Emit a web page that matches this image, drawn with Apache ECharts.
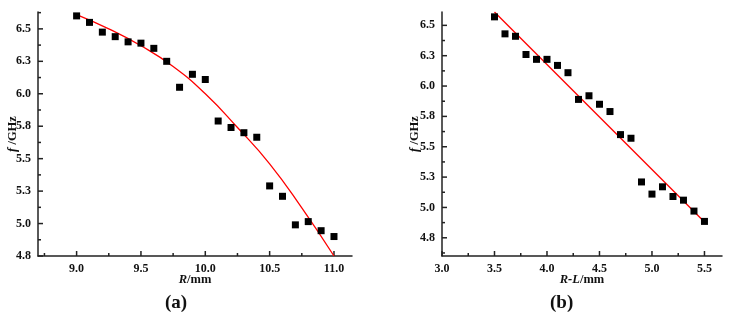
<!DOCTYPE html>
<html>
<head>
    <meta http-equiv="Content-Type" content="text/html; charset=utf-8"/>
    <script type="text/javascript" src="https://cdn.jsdelivr.net/npm/echarts@6/dist/echarts.min.js"></script>
    <style>
        body { margin: 0; background: #fff; }
        #main { width: 733px; height: 319px; }
    </style>
</head>
<body>
<div id="main"></div>
<script type="text/javascript">
    // (a) f vs R
    var rA = [9.0, 9.1, 9.2, 9.3, 9.4, 9.5, 9.6, 9.7, 9.8, 9.9, 10.0,
              10.1, 10.2, 10.3, 10.4, 10.5, 10.6, 10.7, 10.8, 10.9, 11.0];
    var fA = [6.60, 6.55, 6.475, 6.44, 6.40, 6.39, 6.35, 6.25, 6.05, 6.15, 6.11,
              5.79, 5.74, 5.70, 5.665, 5.29, 5.21, 4.99, 5.015, 4.945, 4.90];
    var fitRA = [9.0, 9.25, 9.5, 9.75, 10.0, 10.25, 10.5, 10.75, 11.0];
    var fitFA = [6.61, 6.50, 6.37, 6.21, 6.00, 5.74, 5.46, 5.12, 4.75];
    // (b) f vs R-L
    var rlB = [3.5, 3.6, 3.7, 3.8, 3.9, 4.0, 4.1, 4.2, 4.3, 4.4, 4.5,
               4.6, 4.7, 4.8, 4.9, 5.0, 5.1, 5.2, 5.3, 5.4, 5.5];
    var fB = [6.57, 6.43, 6.41, 6.26, 6.22, 6.22, 6.17, 6.11, 5.89, 5.92, 5.85,
              5.79, 5.60, 5.57, 5.21, 5.11, 5.17, 5.09, 5.06, 4.97, 4.885];
    var fitRLB = [3.5, 5.5];
    var fitFB = [6.61, 4.88];

    // tick labels (major) and minor tick positions
    var xTicksA = [9.0, 9.5, 10.0, 10.5, 11.0];
    var xMinorA = [8.75, 9.25, 9.75, 10.25, 10.75];
    var xTicksB = [3.0, 3.5, 4.0, 4.5, 5.0, 5.5];
    var xMinorB = [3.25, 3.75, 4.25, 4.75, 5.25];
    var yTicks = [4.75, 5.0, 5.25, 5.5, 5.75, 6.0, 6.25, 6.5];
    var yMinorA = [4.875, 5.125, 5.375, 5.625, 5.875, 6.125, 6.375, 6.625];
    var yMinorB = [4.625, 4.875, 5.125, 5.375, 5.625, 5.875, 6.125, 6.375];

    function pairs(xs, ys) {
        var out = [];
        for (var i = 0; i < xs.length; i++) out.push([xs[i], ys[i]]);
        return out;
    }

    var font = '"Liberation Serif", "Times New Roman", serif';
    var rangeA = {x: [8.7, 11.14], y: [4.75, 6.63]};
    var rangeB = {x: [3.0, 5.667], y: [4.60, 6.61]};

    function valueAxis(grid, range, labels, name, gap) {
        return {
            type: 'value', gridIndex: grid, min: range[0], max: range[1],
            name: name, nameLocation: 'middle', nameGap: gap, nameMoveOverlap: false,
            nameTextStyle: {
                fontFamily: font, fontWeight: 'bold', fontSize: 12.5, color: '#111',
                rich: {i: {fontFamily: font, fontWeight: 'bold', fontStyle: 'italic', fontSize: 12.5, color: '#111'}}
            },
            axisLine: {show: true, onZero: false, lineStyle: {color: '#222', width: 1.5}},
            axisTick: {show: false},
            axisLabel: {
                customValues: labels, margin: 7,
                fontFamily: font, fontWeight: 'bold', fontSize: 12, color: '#111',
                formatter: function (v) { return Number(v).toFixed(1); }
            },
            splitLine: {show: false}
        };
    }

    // inward tick marks: [x, y, direction(0 = x tick, 1 = y tick), length]
    function tickData(range, xMajor, xMinor, yMajor, yMinor) {
        var d = [];
        xMajor.forEach(function (v) { d.push([v, range.y[0], 0, 5]); });
        xMinor.forEach(function (v) { d.push([v, range.y[0], 0, 3]); });
        yMajor.forEach(function (v) { d.push([range.x[0], v, 1, 5]); });
        yMinor.forEach(function (v) { d.push([range.x[0], v, 1, 3]); });
        return d;
    }
    function renderTick(params, api) {
        var p = api.coord([api.value(0), api.value(1)]);
        var len = api.value(3);
        var shape = api.value(2) === 0
            ? {x1: p[0], y1: p[1], x2: p[0], y2: p[1] - len}
            : {x1: p[0], y1: p[1], x2: p[0] + len, y2: p[1]};
        return {type: 'line', shape: shape, style: {stroke: '#222', lineWidth: 1.5}};
    }

    var myChart = echarts.init(document.getElementById('main'));
    var option = {
        animation: false,
        grid: [
            {left: 38, top: 12, width: 314, height: 244},
            {left: 442, top: 12, width: 280, height: 244}
        ],
        xAxis: [
            valueAxis(0, rangeA.x, xTicksA, '{i|R}/mm', 17),
            valueAxis(1, rangeB.x, xTicksB, '{i|R-L}/mm', 17)
        ],
        yAxis: [
            valueAxis(0, rangeA.y, yTicks, '{i|f} /GHz', 19),
            valueAxis(1, rangeB.y, yTicks, '{i|f} /GHz', 21)
        ],
        graphic: [
            {type: 'text', left: 165, top: 294, style: {text: '(a)', font: 'bold 19px ' + font, fill: '#111'}},
            {type: 'text', left: 550, top: 294, style: {text: '(b)', font: 'bold 19px ' + font, fill: '#111'}}
        ],
        series: [{
            type: 'custom', xAxisIndex: 0, yAxisIndex: 0, silent: true, clip: false,
            data: tickData(rangeA, xTicksA, xMinorA, yTicks, yMinorA),
            renderItem: renderTick, z: 2
        }, {
            type: 'custom', xAxisIndex: 1, yAxisIndex: 1, silent: true, clip: false,
            data: tickData(rangeB, xTicksB, xMinorB, yTicks, yMinorB),
            renderItem: renderTick, z: 2
        }, {
            type: 'line', xAxisIndex: 0, yAxisIndex: 0,
            data: pairs(fitRA, fitFA), smooth: true, showSymbol: false,
            lineStyle: {color: '#ff0000', width: 1.3}, z: 3
        }, {
            type: 'scatter', xAxisIndex: 0, yAxisIndex: 0,
            data: pairs(rA, fA), symbol: 'rect', symbolSize: 7,
            itemStyle: {color: '#000', opacity: 1}, z: 4
        }, {
            type: 'line', xAxisIndex: 1, yAxisIndex: 1,
            data: pairs(fitRLB, fitFB), showSymbol: false,
            lineStyle: {color: '#ff0000', width: 1.3}, z: 3
        }, {
            type: 'scatter', xAxisIndex: 1, yAxisIndex: 1,
            data: pairs(rlB, fB), symbol: 'rect', symbolSize: 7,
            itemStyle: {color: '#000', opacity: 1}, z: 4
        }]
    };
    myChart.setOption(option);
</script>
</body>
</html>
